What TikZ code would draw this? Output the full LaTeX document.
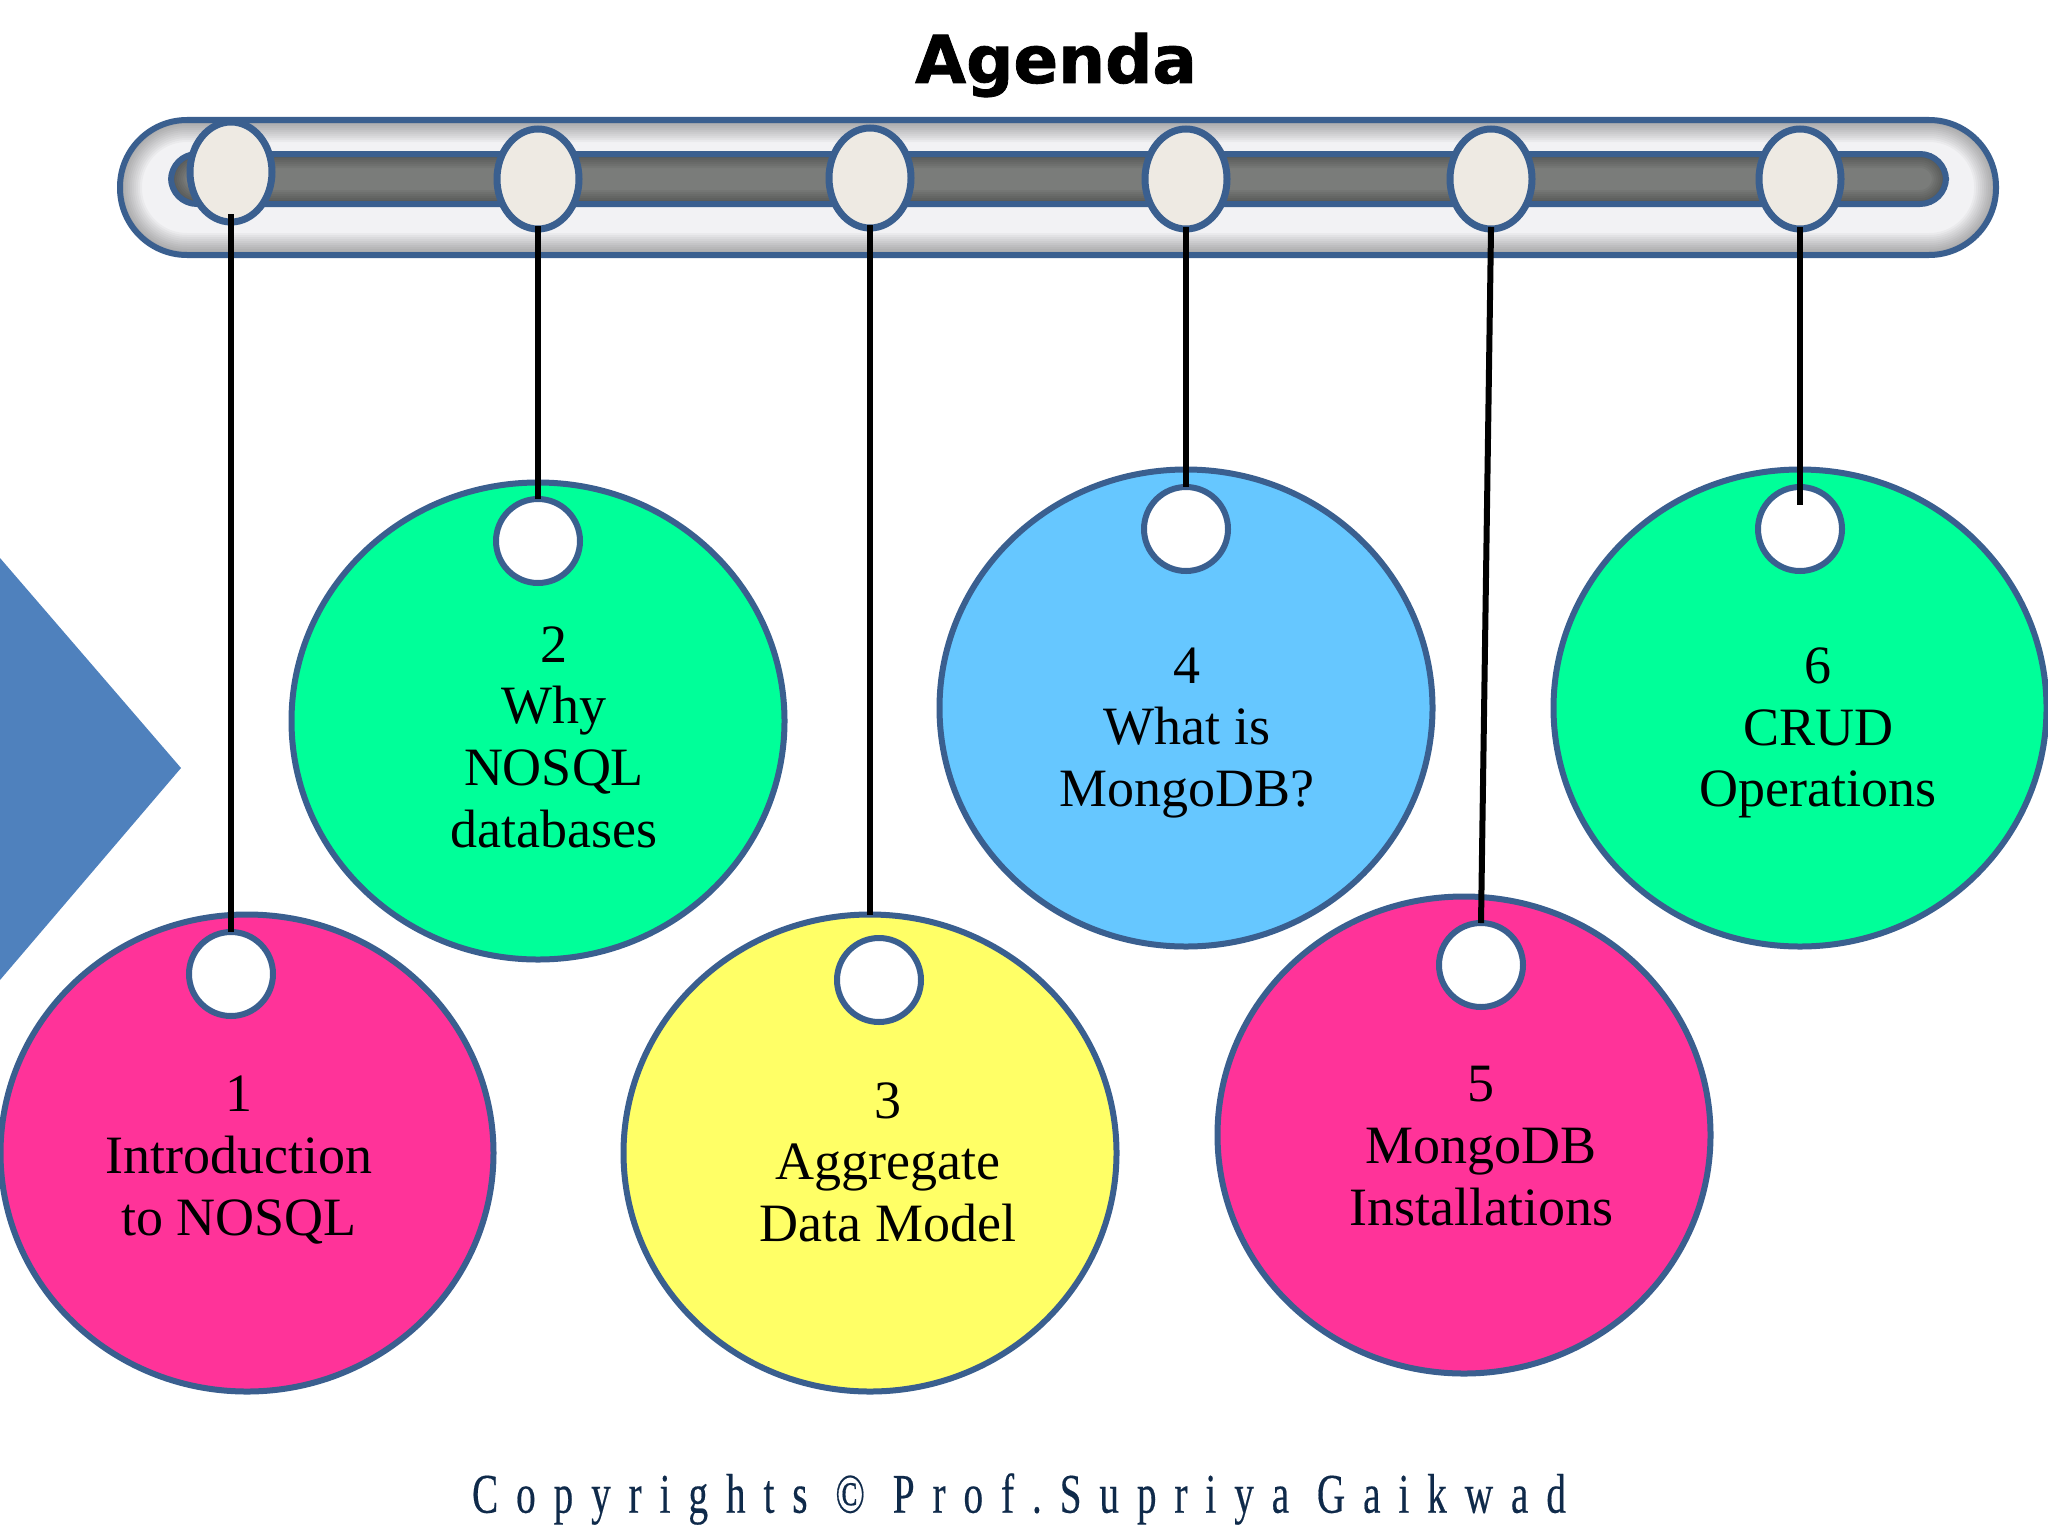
\documentclass[tikz,border=0pt]{standalone}
\usepackage{fontspec}
\setmainfont{Liberation Serif}
\newfontfamily\agendafont[FakeBold=1.2]{DejaVu Sans}
\newfontfamily\copyfont[FakeStretch=0.7,LetterSpace=32,FakeBold=0.3]{Liberation Serif}
\usetikzlibrary{shapes.geometric}
\definecolor{rim}{HTML}{3A5F8F}
\definecolor{pinkc}{HTML}{FF3399}
\definecolor{greenc}{HTML}{00FF99}
\definecolor{bluec}{HTML}{66C7FF}
\definecolor{yellowc}{HTML}{FFFF66}
\definecolor{knob}{HTML}{EEEAE3}
\definecolor{tray}{HTML}{F2F2F4}
\definecolor{slot}{HTML}{7A7C7A}
\definecolor{arrowc}{HTML}{4F81BD}
\definecolor{copyc}{HTML}{0F2A4A}
\tikzset{
  big/.style={ellipse,draw=rim,line width=3pt,inner sep=0pt,outer sep=0pt,minimum width=246.5pt,minimum height=238.5pt},
  hole/.style={circle,draw=rim,line width=3pt,fill=white,inner sep=0pt,outer sep=0pt,minimum size=42pt},
  knobn/.style={ellipse,draw=rim,line width=3.5pt,fill=knob,inner sep=0pt,outer sep=0pt,minimum width=41pt,minimum height=50pt},
  lbl/.style={align=center,inner sep=0pt,font=\fontsize{27}{30.8}\selectfont,text=black},
  wire/.style={draw=black,line width=3pt}
}
\begin{document}
\begin{tikzpicture}[x=0.5pt,y=-0.5pt]
\useasboundingbox (0,0) rectangle (2048,1536);
\fill[white] (0,0) rectangle (2048,1536);
% left arrow
\fill[arrowc] (0,558) -- (181,768) -- (0,980) -- cycle;
% tray
\begin{scope}
\clip[rounded corners=33.5pt] (120,120) rectangle (1996,255);
\fill[tray] (120,120) rectangle (1996,255);
\foreach \w in {2,4,...,22}
  \draw[black,opacity=0.03,line width=\w pt,rounded corners=33.5pt] (120,120) rectangle (1996,255);
\end{scope}
\draw[rim,line width=3pt,rounded corners=33.5pt] (120,120) rectangle (1996,255);
% slot
\begin{scope}
\clip[rounded corners=13pt] (171,154) rectangle (1946,204);
\fill[slot] (171,154) rectangle (1946,204);
\foreach \w in {2,4,...,14}
  \draw[black,opacity=0.045,line width=\w pt,rounded corners=13pt] (171,154) rectangle (1946,204);
\end{scope}
\draw[rim,line width=3pt,rounded corners=13pt] (171,154) rectangle (1946,204);
% knobs
\node[knobn] (e1) at (231,172) {};
\node[knobn] (e2) at (538,179) {};
\node[knobn] (e3) at (870,178) {};
\node[knobn] (e4) at (1186,179) {};
\node[knobn] (e5) at (1491,179) {};
\node[knobn] (e6) at (1800,179) {};
% big discs
\node[big,fill=pinkc] (b1) at (247,1153) {};
\node[big,fill=greenc] (b2) at (538,721) {};
\node[big,fill=yellowc] (b3) at (870,1153) {};
\node[big,fill=bluec] (b4) at (1186,708) {};
\node[big,fill=pinkc] (b5) at (1464,1135) {};
\node[big,fill=greenc] (b6) at (1800,708) {};
% holes
\node[hole] (h1) at (231,974) {};
\node[hole] (h2) at (538,541) {};
\node[hole] (h3) at (879,980) {};
\node[hole] (h4) at (1186,529) {};
\node[hole] (h5) at (1481,965) {};
\node[hole] (h6) at (1800,529) {};
% connectors
\draw[wire,shorten <=-4pt] (e1.south) -- (h1.north);
\draw[wire,shorten <=-1.5pt] (e2.south) -- (h2.north);
\draw[wire,shorten <=-1.5pt] (e3.south) -- (b3.north);
\draw[wire,shorten <=-1pt] (e4.south) -- (h4.north);
\draw[wire,shorten <=-1pt] (e5.south) -- (h5.north);
\draw[wire,shorten <=-1pt,shorten >=-9pt] (e6.south) -- (h6.north);
% labels
\node[lbl] (t1) at (239,1160) {1\\Introduction\\to NOSQL};
\node[lbl] (t2) at (554,737) {2\\Why\\NOSQL\\databases};
\node[lbl] (t3) at (888,1162) {3\\Aggregate\\Data Model};
\node[lbl] (t4) at (1187,733) {4\\What is\\MongoDB?};
\node[lbl] (t5) at (1481,1146) {5\\MongoDB\\Installations};
\node[lbl] (t6) at (1818,733) {6\\CRUD\\Operations};
\node[inner sep=0pt,font=\agendafont\bfseries\fontsize{33}{38}\selectfont] (title) at (1056,65) {Agenda};
\node[inner sep=0pt,text=copyc,font=\copyfont\fontsize{28}{30}\selectfont] (copy) at (1019,1499) {Copyrights © Prof.Supriya Gaikwad};
\end{tikzpicture}
\end{document}
